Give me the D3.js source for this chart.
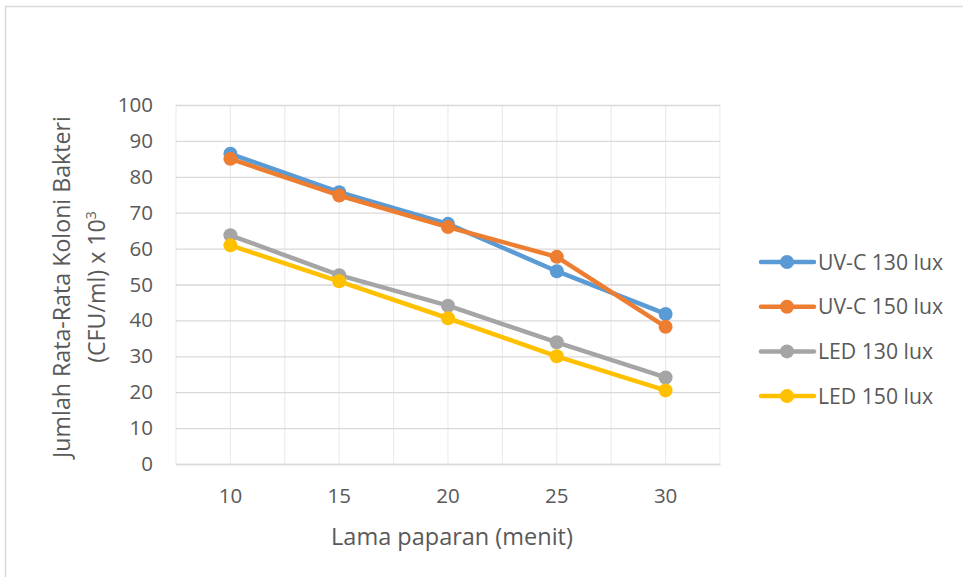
<!DOCTYPE html>
<html>
<head>
<meta charset="utf-8">
<script src="https://cdn.jsdelivr.net/npm/d3@7"></script>
<style>
  html, body { margin: 0; padding: 0; background: #fff; }
  svg { display: block; }
  text { font-family: "Open Sans", Lato, "Noto Sans", sans-serif; fill: #595959; }
</style>
</head>
<body>
<svg id="chart" width="963" height="577"></svg>
<script>
// Exposure times (minutes) along the category axis
const categories = ["10", "15", "20", "25", "30"];

// Mean bacterial colony count (CFU/ml x 10^3) for each treatment
const uvc130 = [86.4, 75.7, 66.9, 53.7, 41.8];
const uvc150 = [85.0, 74.8, 66.0, 57.7, 38.2];
const led130 = [63.7, 52.6, 44.1, 33.9, 24.1];
const led150 = [60.9, 50.9, 40.6, 30.0, 20.5];

const seriesNames = ["UV-C 130 lux", "UV-C 150 lux", "LED 130 lux", "LED 150 lux"];
const seriesColors = ["#5b9bd5", "#ed7d31", "#a5a5a5", "#ffc000"];
const yTicks = [0, 10, 20, 30, 40, 50, 60, 70, 80, 90, 100];

const series = [uvc130, uvc150, led130, led150].map((values, i) => ({
  name: seriesNames[i],
  color: seriesColors[i],
  values
}));

const FONT = "'Open Sans', Lato, sans-serif";
const svg = d3.select("#chart");

// Outer chart border
svg.append("rect")
  .attr("x", 5.5).attr("y", 6.5)
  .attr("width", 1000).attr("height", 1000)
  .attr("fill", "none").attr("stroke", "#d9d9d9").attr("stroke-width", 1.5);

const plot = { left: 176, right: 720, top: 105, bottom: 464 };

const x = d3.scaleBand()
  .domain(categories)
  .range([plot.left, plot.right]);

const y = d3.scaleLinear()
  .domain([0, 100])
  .range([plot.bottom, plot.top]);

const g = svg.append("g");

// Vertical gridlines at category centres and between categories
const vLines = [];
categories.forEach(c => {
  vLines.push(x(c));
  vLines.push(x(c) + x.bandwidth() / 2);
});
vLines.push(plot.right);
g.selectAll("line.vgrid")
  .data(vLines)
  .join("line")
  .attr("class", "vgrid")
  .attr("x1", d => d).attr("x2", d => d)
  .attr("y1", plot.top).attr("y2", plot.bottom)
  .attr("stroke", "#ececec").attr("stroke-width", 1.2);

// Horizontal gridlines on the value axis
const yAxis = d3.axisLeft(y)
  .tickValues(yTicks)
  .tickSize(-(plot.right - plot.left))
  .tickPadding(22);

const yG = g.append("g")
  .attr("transform", `translate(${plot.left},0)`)
  .call(yAxis);
yG.select(".domain").remove();
yG.selectAll(".tick line").attr("stroke", "#d9d9d9").attr("stroke-width", 1.3);
yG.selectAll(".tick text")
  .attr("x", -23)
  .attr("font-size", 20.5)
  .attr("fill", "#595959")
  .attr("font-family", FONT);

// Category axis labels
const xAxis = d3.axisBottom(x).tickSize(0).tickPadding(24);
const xG = g.append("g")
  .attr("transform", `translate(0,${plot.bottom})`)
  .call(xAxis);
xG.select(".domain").attr("stroke", "#d9d9d9").attr("stroke-width", 1.3);
xG.selectAll(".tick text")
  .attr("font-size", 20.5)
  .attr("fill", "#595959")
  .attr("font-family", FONT);

const cx = c => x(c) + x.bandwidth() / 2;

const line = d3.line()
  .x((d, i) => cx(categories[i]))
  .y(d => y(d));

// Lines and markers for each series
series.forEach(s => {
  g.append("path")
    .datum(s.values)
    .attr("d", line)
    .attr("fill", "none")
    .attr("stroke", s.color)
    .attr("stroke-width", 4.5)
    .attr("stroke-linejoin", "round")
    .attr("stroke-linecap", "round");
  g.selectAll(null)
    .data(s.values)
    .join("circle")
    .attr("cx", (d, i) => cx(categories[i]))
    .attr("cy", d => y(d))
    .attr("r", 7)
    .attr("fill", s.color);
});

// Axis titles
svg.append("text")
  .attr("x", 452)
  .attr("y", 545)
  .attr("text-anchor", "middle")
  .attr("font-size", 23.5)
  .text("Lama paparan (menit)");

const yTitle = svg.append("text")
  .attr("transform", "translate(0,287) rotate(-90)")
  .attr("text-anchor", "middle")
  .attr("font-size", 23.2);
yTitle.append("tspan").attr("x", 0).attr("y", 70).text("Jumlah Rata-Rata Koloni Bakteri");
const t2 = yTitle.append("tspan").attr("x", 0).attr("y", 105);
t2.append("tspan").text("(CFU/ml) x 10");
t2.append("tspan").attr("dy", -9).attr("font-size", 14).text("3");

// Legend
const legend = svg.append("g");
series.forEach((s, i) => {
  const ly = 262 + i * 44.7;
  legend.append("line")
    .attr("x1", 761).attr("x2", 814)
    .attr("y1", ly).attr("y2", ly)
    .attr("stroke", s.color).attr("stroke-width", 4.5)
    .attr("stroke-linecap", "round");
  legend.append("circle")
    .attr("cx", 787).attr("cy", ly).attr("r", 7).attr("fill", s.color);
  legend.append("text")
    .attr("x", 818).attr("y", ly + 7.5)
    .attr("font-size", 21.2)
    .text(s.name);
});
</script>
</body>
</html>
